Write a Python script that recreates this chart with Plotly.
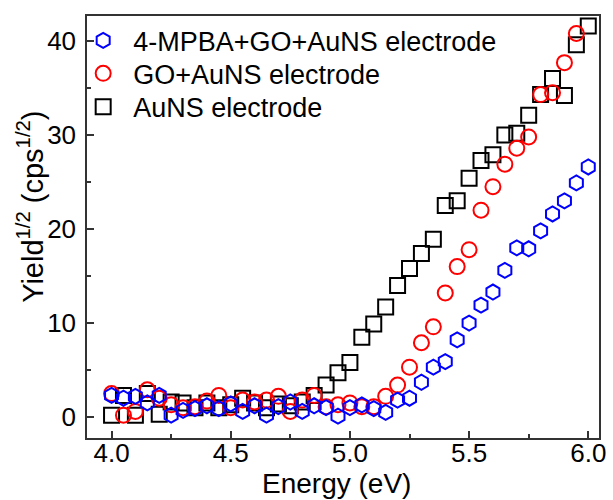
import plotly.graph_objects as go

energy = [4.00, 4.05, 4.10, 4.15, 4.20, 4.25, 4.30, 4.35, 4.40, 4.45,
          4.50, 4.55, 4.60, 4.65, 4.70, 4.75, 4.80, 4.85, 4.90, 4.95,
          5.00, 5.05, 5.10, 5.15, 5.20, 5.25, 5.30, 5.35, 5.40, 5.45,
          5.50, 5.55, 5.60, 5.65, 5.70, 5.75, 5.80, 5.85, 5.90, 5.95, 6.00]

mpba_go_auns = [2.3, 2.0, 2.2, 1.5, 2.3, 0.2, 0.7, 0.9, 1.2, 0.9,
                1.4, 0.6, 1.2, 0.2, 1.1, 1.6, 0.6, 1.2, 1.0, 0.1,
                1.0, 1.3, 0.9, 0.5, 1.8, 2.0, 3.7, 5.3, 5.9, 8.2,
                10.0, 11.9, 13.3, 15.6, 18.0, 17.9, 19.8, 21.6, 23.0, 24.9, 26.6]

go_auns = [2.5, 0.2, 0.6, 2.9, 2.0, 1.3, 1.0, 1.1, 1.7, 2.3,
           1.0, 1.8, 1.6, 1.8, 2.2, 0.6, 1.8, 2.3, 1.1, 1.3,
           1.5, 1.1, 1.1, 2.2, 3.4, 5.3, 7.9, 9.6, 13.2, 16.0,
           17.8, 22.0, 24.5, 26.9, 28.6, 29.8, 34.3, 34.5, 37.7, 40.8, None]

auns = [0.2, 2.3, 0.2, 2.5, 0.3, 1.6, 1.5, 1.0, 1.5, 1.0,
        1.3, 2.0, 1.5, 1.0, 1.4, 1.2, 1.6, 2.3, 3.4, 4.7,
        5.8, 8.5, 9.9, 11.7, 14.0, 15.8, 17.4, 18.9, 22.5, 23.0,
        25.4, 27.3, 27.9, 30.0, 30.2, 32.1, 34.3, 36.0, 34.2, 39.6, 41.6]

x_ticks = [4.0, 4.5, 5.0, 5.5, 6.0]
x_ticklabels = ["4.0", "4.5", "5.0", "5.5", "6.0"]
y_ticks = [0, 10, 20, 30, 40]

# (name, values, symbol, colour, legend id, legend row y in paper coords)
series = [
    ("4-MPBA+GO+AuNS electrode", mpba_go_auns, "hexagon-open", "#0000ff", "legend", 0.941),
    ("GO+AuNS electrode", go_auns, "circle-open", "#ff0000", "legend2", 0.863),
    ("AuNS electrode", auns, "square-open", "#000000", "legend3", 0.784),
]

FONT = "Arial, Liberation Sans, sans-serif"

fig = go.Figure()
for name, vals, sym, col, leg, _ in reversed(series):
    fig.add_trace(go.Scatter(
        x=energy, y=vals, mode="markers", name=name, legend=leg,
        marker=dict(symbol=sym, size=15, color=col, line=dict(width=2, color=col)),
    ))

axis_common = dict(
    showline=True, linecolor="#333333", linewidth=1.5, mirror=True,
    ticks="inside", ticklen=7, tickwidth=1.5, tickcolor="#333333",
    showgrid=False, zeroline=False,
    tickfont=dict(family=FONT, size=26, color="#000000"),
)

fig.update_xaxes(
    range=[3.897, 6.045], tickvals=x_ticks, ticktext=x_ticklabels,
    minor=dict(tickvals=[4.25, 4.75, 5.25, 5.75], ticks="inside", ticklen=4,
               tickwidth=1.5, tickcolor="#333333"),
    ticklabelstandoff=-9,
    **axis_common,
)
fig.update_yaxes(
    range=[-2.23, 42.66], tickvals=y_ticks,
    minor=dict(tickvals=[5, 15, 25, 35], ticks="inside", ticklen=4,
               tickwidth=1.5, tickcolor="#333333"),
    ticklabelstandoff=4,
    **axis_common,
)

fig.add_annotation(text="Energy (eV)", xref="paper", yref="paper",
                   x=0.4875, y=-0.108, xanchor="center", yanchor="middle",
                   showarrow=False, font=dict(family=FONT, size=28, color="#000000"))
fig.add_annotation(text="Yield<sup>1/2</sup> (cps<sup>1/2</sup>)", xref="paper", yref="paper",
                   x=-0.11, y=0.547, xanchor="center", yanchor="middle", textangle=-90,
                   showarrow=False, font=dict(family=FONT, size=29, color="#000000"))

legend_layout = {}
for name, vals, sym, col, leg, ly in series:
    legend_layout[leg] = dict(
        x=-0.027, y=ly, xanchor="left", yanchor="middle", itemwidth=50,
        font=dict(family=FONT, size=27, color="#000000"),
        bgcolor="rgba(0,0,0,0)", borderwidth=0,
    )

fig.update_layout(
    width=613, height=500,
    margin=dict(l=87, r=7, t=16, b=62),
    plot_bgcolor="white", paper_bgcolor="white",
    showlegend=True,
    **legend_layout,
)

fig.write_html("out.html")
